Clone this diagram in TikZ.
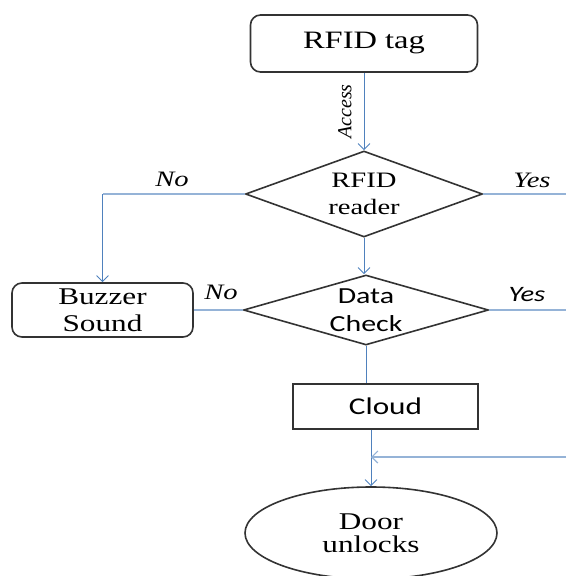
\documentclass[tikz,border=0pt]{standalone}
\usepackage{fontspec}
\setmainfont{Liberation Serif}[FakeStretch=1.3]
\newfontfamily\calfont{Carlito}[FakeStretch=1.3]
\newfontfamily\plainserif{Liberation Serif}
\usetikzlibrary{shapes.geometric,arrows.meta}

\definecolor{flowblue}{HTML}{4F81BD}
\definecolor{flowlight}{HTML}{95B3D7}
\definecolor{boxline}{HTML}{333333}

\tikzstyle{flowfig}=[x=1pt,y=-1pt,>={Straight Barb[length=6pt,width=12pt]}]
\tikzstyle{roundbox}=[draw=boxline,line width=1.6pt,rounded corners=10pt,align=center,inner sep=0pt]
\tikzstyle{plainbox}=[draw=boxline,line width=1.6pt,align=center,inner sep=0pt]
\tikzstyle{decision}=[draw=boxline,line width=1.6pt,diamond,align=center,inner sep=0pt]
\tikzstyle{endstate}=[draw=boxline,line width=1.6pt,ellipse,align=center,inner sep=0pt]
\tikzstyle{mainline}=[flowblue,line width=0.9pt]
\tikzstyle{sideline}=[flowlight,line width=1.2pt]
\tikzstyle{answer}=[text=black,font=\fontsize{22}{24}\selectfont\itshape,inner sep=0pt]

\begin{document}
\begin{tikzpicture}[style=flowfig]
\useasboundingbox (0,0) rectangle (566,576);

\node[roundbox,minimum width=227pt,minimum height=57pt,font=\fontsize{25}{28}\selectfont] (tag) at (364,43.5) {RFID tag};
\node[decision,minimum width=237pt,minimum height=86pt,shape aspect=2.8,font=\fontsize{22}{27}\selectfont] (reader) at (364,194) {RFID\\reader};
\node[decision,minimum width=245pt,minimum height=70pt,shape aspect=3.5,font=\calfont\fontsize{23}{28}\selectfont] (check) at (366,310) {Data\\Check};
\node[roundbox,minimum width=181pt,minimum height=54pt,font=\fontsize{24}{27}\selectfont] (buzzer) at (102.5,310) {Buzzer\\Sound};
\node[plainbox,minimum width=185pt,minimum height=45pt,font=\calfont\fontsize{24}{28}\selectfont] (cloud) at (385.5,406.5) {Cloud};
\node[endstate,minimum width=252pt,minimum height=92pt,font=\fontsize{24}{23}\selectfont] (door) at (371,533) {Door\\unlocks};

% tag to reader
\draw[mainline,->] (tag.south) -- (reader.north)
  node[answer,midway,left=12pt,rotate=90,anchor=south,font=\plainserif\fontsize{20}{22}\selectfont\itshape] (access) {Access};

% reader branches
\coordinate (lcorner) at (buzzer.north |- reader.west);
\draw[sideline] (reader.west) -- (lcorner);
\draw[mainline,->] (lcorner) -- (buzzer.north);
\node[answer] (no1) at (172,179) {No};
\coordinate (rout1) at (reader.east -| 566,0);
\draw[sideline] (reader.east) -- (rout1);
\node[answer] (yes1) at (532,180) {Yes};
\draw[mainline,->] (reader.south) -- (reader.south |- check.north);

% check branches
\draw[sideline] (check.west) -- (buzzer.east);
\node[answer] (no2) at (221,292) {No};
\coordinate (rout2) at (check.east -| 566,0);
\draw[sideline] (check.east) -- (rout2);
\node[answer,font=\calfont\fontsize{22}{24}\selectfont\itshape] (yes2) at (527,295) {Yes};
\draw[mainline] (check.south) -- (check.south |- cloud.north);

% cloud to door
\draw[mainline,->] (door.north |- cloud.south) -- (door.north);
\coordinate (rin) at (566,457);
\coordinate (join) at (door.north |- rin);
\draw[sideline,->] (rin) -- (join);
\end{tikzpicture}
\end{document}
